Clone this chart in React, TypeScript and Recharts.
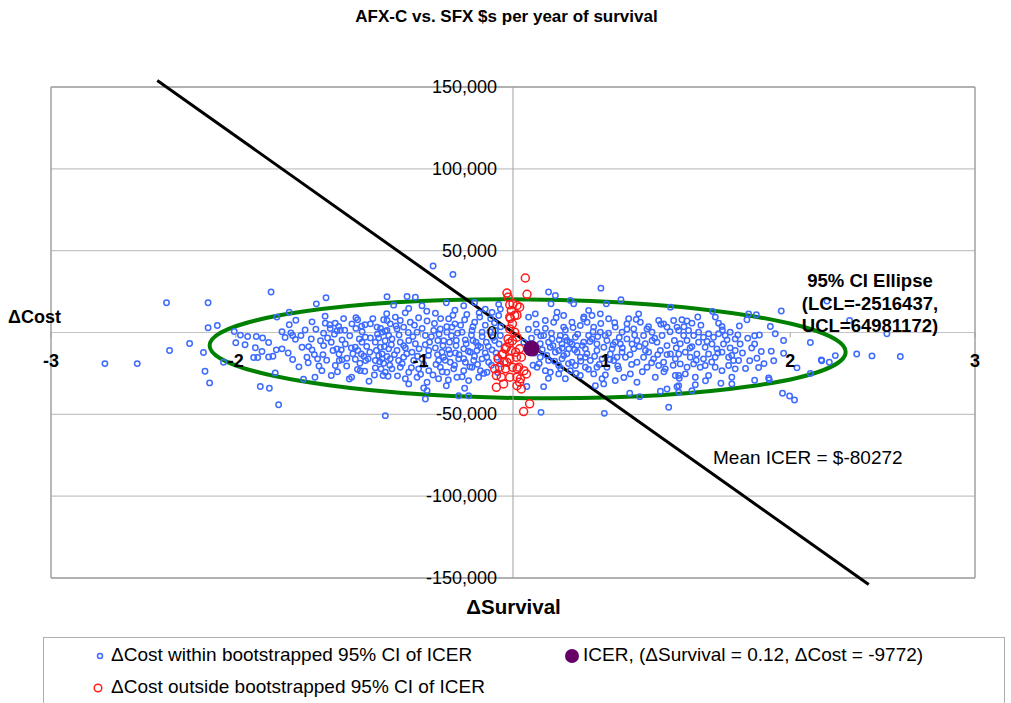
import {
  CartesianGrid,
  ReferenceArea,
  ReferenceLine,
  Scatter,
  ScatterChart,
  XAxis,
  YAxis
} from "recharts";

// ΔSurvival, ΔCost in $ thousands
const WITHIN_CI_K: [number, number][] = [
  [-2.65, -19.0], [-2.44, -19.0], [-2.25, 18.2], [-1.98, 18.2], [-2.23, -11.0], [-2.10, -6.7], [-2.01, -12.2],
  [-1.98, 2.9], [-1.92, 4.3], [-2.0, -23.7], [-1.97, -30.8], [-1.81, 0.6], [-1.77, -1.6], [-1.8, -6.3],
  [-1.74, -7.5], [-1.88, -18.2],
  [-1.571, 24.7], [-1.277, 17.5], [-1.214, 21.2], [-1.533, 9.4], [-1.453, 12.4], [-1.453, 4.7], [-1.305, 6.5],
  [-1.723, -2.4], [-1.667, -2.4], [-1.626, -3.3], [-1.673, -9.3], [-1.587, -6.1], [-1.63, -11.6], [-1.684, -15.3],
  [-1.658, -15.3], [-1.587, -14.9], [-1.559, -14.5], [-1.537, -10.6], [-1.5, -10.0], [-1.431, -16.5], [-1.442, -0.2],
  [-1.431, -1.8], [-1.413, -4.2], [-1.377, -1.8], [-1.544, -24.7], [-1.641, -33.0], [-1.582, -34.1], [-1.522, -44.1],
  [-1.327, -8.6], [-1.305, -10.6], [-1.338, -15.1], [-1.29, -13.5], [-1.269, -16.1], [-1.234, -13.5], [-1.23, -8.0],
  [-1.241, -23.3], [-1.286, -27.3], [-1.219, 5.7], [-1.19, 4.7], [-1.154, 5.7], [-1.132, 3.7], [-1.23, -0.4],
  [-1.204, -3.4], [-1.187, 2.4], [-1.143, 1.0], [-1.121, 1.4], [-1.093, 1.4], [-1.169, -11.0], [-1.143, -10.0],
  [-1.115, -10.6], [-1.13, -13.1], [-1.154, -20.2], [-1.128, -17.1], [-1.11, -16.7], [-1.078, -15.7], [-1.089, -7.0],
  [-1.05, -9.4], [-1.024, -9.0], [-1.007, -11.0], [-0.985, -13.1], [-1.024, -16.3], [-1.18, -26.3], [-1.063, -28.4],
  [-1.048, -27.3], [-0.994, -18.8], [-0.968, -14.5], [-0.957, -17.1], [-0.94, -16.1], [-0.992, -23.3], [-0.963, -23.7],
  [-0.935, -29.8], [-1.046, 5.3], [-1.02, 9.0], [-1.009, 7.8], [-0.983, 3.9], [-0.961, 4.7], [-0.926, 5.3],
  [-0.883, 3.3], [-0.84, 7.8], [-0.818, 7.3], [-0.818, 21.8], [-0.998, -3.9], [-0.981, -5.9], [-0.959, -2.9],
  [-0.926, -3.3], [-0.894, -5.9], [-0.872, -3.3], [-0.85, 0.2], [-0.829, 0.8], [-0.807, -1.8], [-0.861, -9.0],
  [-0.835, -8.6], [-0.807, -10.0], [-0.887, -11.0], [-0.872, -14.1], [-0.85, -13.1], [-0.818, -14.7], [-0.894, -17.1],
  [-0.866, -17.8], [-0.84, -18.8], [-0.894, -21.6], [-0.857, -22.2], [-0.829, -24.3], [-0.844, -26.3], [-0.811, -26.7],
  [-0.829, -50.8],
  [-0.519, 40.6], [-0.39, 35.5], [-0.688, 22.0], [-0.634, 21.6], [-0.433, 18.2], [-0.093, 17.2], [-0.775, 16.7],
  [-0.677, 14.7], [-0.591, 16.3], [-0.504, 11.8], [-0.377, 13.6], [-0.32, 16.3], [-0.249, 18.4], [-0.18, 14.3],
  [-0.136, 12.3], [-0.082, 14.3], [-0.764, 9.4], [-0.732, 7.3], [-0.797, 5.3], [-0.667, 6.3], [-0.613, 9.0],
  [-0.558, 7.0], [-0.418, 8.4], [-0.377, 5.3], [-0.314, 7.8], [-0.249, 6.3], [-0.216, 9.4], [-0.145, 8.4],
  [-0.093, 10.4], [-0.818, 1.2], [-0.753, 2.2], [-0.71, 3.3], [-0.623, 0.2], [-0.569, -1.8], [-0.515, 1.2],
  [-0.472, 2.2], [-0.429, 0.2], [-0.396, 3.3], [-0.331, 0.2], [-0.266, 1.2], [-0.201, 0.2], [-0.786, -3.9],
  [-0.732, -5.9], [-0.677, -4.9], [-0.634, -6.9], [-0.542, -5.9], [-0.488, -4.9], [-0.455, -8.0], [-0.412, -5.9],
  [-0.368, -4.9], [-0.304, -6.9], [-0.26, -4.9], [-0.227, -8.0], [-0.173, -5.9], [-0.119, -4.9], [-0.753, -11.0],
  [-0.699, -9.4], [-0.656, -12.0], [-0.547, -11.0], [-0.504, -9.4], [-0.461, -12.0], [-0.418, -10.6], [-0.374, -12.5],
  [-0.32, -10.0], [-0.277, -12.0], [-0.234, -11.0], [-0.18, -12.5], [-0.136, -10.6], [-0.797, -16.1], [-0.743, -17.1],
  [-0.71, -15.1], [-0.645, -17.1], [-0.591, -16.1], [-0.483, -17.1], [-0.451, -15.1], [-0.407, -18.2], [-0.353, -16.1],
  [-0.309, -18.2], [-0.255, -17.1], [-0.201, -16.1], [-0.158, -18.2], [-0.786, -22.2], [-0.732, -21.2], [-0.677, -24.3],
  [-0.613, -22.2], [-0.547, -23.3], [-0.472, -21.2], [-0.429, -24.3], [-0.385, -22.2], [-0.32, -23.3], [-0.266, -21.2],
  [-0.212, -23.3], [-0.169, -24.3], [-0.699, -28.3], [-0.623, -27.3], [-0.558, -30.4], [-0.483, -28.3], [-0.364, -27.3],
  [-0.288, -29.4], [-0.223, -27.3], [-0.677, -31.4], [-0.58, -33.9], [-0.558, -35.5], [-0.433, -32.5], [-0.314, -34.1],
  [-0.569, -40.6], [-0.353, -38.6], [-0.288, -38.6], [-0.114, 1.2], [-0.082, -1.8], [-0.104, -15.1], [-0.082, -19.2],
  [0.101, 9.4], [0.1, 2.0], [0.07, -6.0], [0.13, -20.0], [0.09, -33.0],
  [0.571, 27.1], [0.231, 24.7], [0.275, 22.6], [0.247, 17.5], [0.372, 19.6], [0.394, 17.5], [0.606, 17.5],
  [0.701, 20.0], [1.022, 15.5], [0.286, 12.4], [0.329, 10.4], [0.491, 13.5], [0.513, 10.4], [0.459, 8.4],
  [0.567, 11.4], [0.621, 8.4], [0.751, 8.4], [0.816, 11.4], [0.827, 6.3], [0.74, 5.3], [0.946, 7.3], [0.978, 5.3],
  [1.043, 7.3], [0.145, 11.4], [0.21, 7.3], [0.264, 6.3], [0.329, 3.3], [0.383, 6.3], [0.437, 4.3], [0.481, 6.3],
  [0.524, 3.3], [0.567, 0.2], [0.664, 3.3], [0.708, 0.2], [0.784, 2.2], [0.87, 2.2], [0.903, 0.2], [1.0, 3.3],
  [1.065, 3.3], [0.156, 0.2], [0.199, -1.8], [0.253, -3.9], [0.307, -1.8], [0.351, -4.9], [0.405, -2.9], [0.459, -5.9],
  [0.513, -3.9], [0.61, -4.9], [0.664, -5.9], [0.74, -3.9], [0.805, -4.9], [0.859, -6.9], [0.935, -5.9], [1.0, -8.0],
  [1.048, -4.9], [0.242, -9.0], [0.297, -11.0], [0.362, -10.0], [0.416, -12.0], [0.47, -10.0], [0.545, -11.0],
  [0.643, -10.0], [0.708, -12.0], [0.784, -10.0], [0.881, -12.0], [0.957, -11.0], [1.022, -13.1], [0.177, -15.1],
  [0.231, -17.1], [0.318, -16.1], [0.383, -18.2], [0.437, -15.1], [0.502, -17.1], [0.578, -16.1], [0.654, -17.1],
  [0.73, -15.1], [0.805, -18.2], [0.913, -16.1], [0.978, -18.2], [1.054, -16.1], [0.156, -21.2], [0.21, -23.3],
  [0.34, -28.3], [0.437, -26.3], [0.524, -25.3], [0.578, -28.3], [0.664, -29.4], [0.762, -25.3], [0.805, -30.4],
  [0.924, -27.3], [0.989, -22.2], [1.054, -26.3], [0.199, -33.1], [0.535, -32.5], [0.589, -31.4], [0.957, -35.9],
  [1.0, -34.5], [1.065, -33.1], [0.758, -37.1], [0.823, -39.2], [1.011, -45.7], [0.593, -49.4], [0.182, -48.8],
  [0.34, -2.9], [0.383, -7.0], [0.491, -1.8], [0.545, -7.0], [0.599, -1.8], [0.416, -8.0], [0.318, -7.0],
  [0.231, -5.9], [0.177, -6.9], [0.275, -12.0], [0.329, -14.1], [0.47, -15.1], [0.405, -20.2], [0.47, -21.2],
  [0.545, -21.2], [0.61, -21.2], [0.686, -22.2], [0.297, -20.2], [0.242, -24.3], [0.372, -23.3], [0.297, -25.3],
  [0.697, -7.0], [0.773, -7.0], [0.632, -13.1], [0.675, -15.1], [0.848, -15.1], [0.87, -21.2], [0.946, -20.2],
  [0.848, -1.8], [0.903, -4.9], [0.968, -1.8],
  [1.097, 7.8], [1.13, 7.0], [1.162, 5.7], [1.296, 12.8], [1.314, 9.4], [1.335, 5.7], [1.357, 3.7], [1.519, 7.8],
  [1.53, 11.4], [1.58, 10.8], [1.742, 13.1], [1.671, 3.7], [1.703, -0.8], [1.524, -3.5], [1.569, -2.0], [1.569, -7.0],
  [1.612, -11.6], [1.677, -11.4], [1.757, -4.9], [1.757, -12.7], [1.537, -17.3], [1.584, -15.7], [1.595, -21.4],
  [1.693, -17.3], [1.66, -27.8], [1.664, -28.8], [1.569, -29.2], [1.844, -21.6], [1.75, -37.1], [1.796, -38.8],
  [1.828, -41.2], [1.931, -6.1], [1.931, -25.0], [2.005, -17.3],
  [1.076, 1.2], [1.108, -1.8], [1.14, 1.2], [1.173, -1.8], [1.205, 0.2], [1.237, -2.9], [1.27, -0.8], [1.302, -2.9],
  [1.335, -0.8], [1.378, -1.8], [1.41, 0.2], [1.443, -3.9], [1.086, -6.9], [1.13, -4.9], [1.162, -8.6], [1.205, -5.9],
  [1.248, -9.0], [1.292, -7.0], [1.324, -10.0], [1.367, -7.0], [1.41, -9.4], [1.443, -11.0], [1.475, -7.0],
  [1.076, -13.1], [1.119, -12.0], [1.151, -15.1], [1.194, -13.1], [1.237, -16.1], [1.27, -13.1], [1.313, -15.1],
  [1.357, -12.0], [1.4, -15.1], [1.432, -17.1], [1.465, -17.1], [1.086, -19.2], [1.13, -21.2], [1.173, -19.2],
  [1.216, -21.2], [1.248, -20.2], [1.313, -21.2], [1.357, -23.3], [1.4, -20.2], [1.443, -22.2], [1.076, -26.3],
  [1.119, -25.3], [1.184, -27.3], [1.27, -26.3], [1.421, -27.3], [1.076, -32.5], [1.162, -35.5], [1.184, -31.9],
  [1.421, -31.4], [1.076, -36.5],
  [2.039, 19.2], [2.186, 7.3], [2.428, -0.8], [2.002, -16.7], [2.054, -18.2], [2.093, -14.1], [2.232, -13.1],
  [2.331, -14.3], [2.515, -14.7],
  // denser core, second pass
  [-0.98, 0.5], [-0.95, -8.5], [-0.93, -12.0], [-0.91, 8.5], [-0.9, -26.0], [-0.88, -1.0], [-0.86, 2.5],
  [-0.85, -16.0], [-0.83, -5.0], [-0.82, 11.5], [-0.8, -20.0], [-0.79, -7.5], [-0.77, -13.5], [-0.76, 4.0],
  [-0.75, -26.5], [-0.74, -1.5], [-0.72, -19.0], [-0.71, -8.0], [-0.7, 12.0], [-0.69, -13.0], [-0.68, 0.0],
  [-0.66, -21.5], [-0.65, -2.5], [-0.64, 4.5], [-0.62, -14.5], [-0.61, -10.0], [-0.6, -25.5], [-0.59, 2.5],
  [-0.58, -19.5], [-0.57, -7.5], [-0.56, 13.0], [-0.55, -14.0], [-0.53, -2.5], [-0.52, -26.0], [-0.51, 5.5],
  [-0.5, -19.5], [-0.49, -13.5], [-0.48, -1.0], [-0.47, 8.5], [-0.46, -24.0], [-0.45, -5.0], [-0.44, -17.0],
  [-0.43, 3.5], [-0.42, -29.0], [-0.41, -13.0], [-0.4, -2.0], [-0.39, 10.5], [-0.38, -20.0], [-0.37, -8.0],
  [-0.36, -0.5], [-0.35, -13.5], [-0.34, 4.5], [-0.33, -27.0], [-0.32, -16.0], [-0.31, -4.5], [-0.3, 11.0],
  [-0.29, -11.5], [-0.28, -21.0], [-0.27, -1.5], [-0.26, 3.5], [-0.25, -14.5], [-0.24, -6.0], [-0.23, -19.5],
  [-0.22, 12.0], [-0.21, -9.0], [-0.2, -2.5], [-0.19, -25.0], [-0.18, 4.5], [-0.17, -15.0], [-0.16, -8.5],
  [-0.15, 0.5], [-0.14, -20.0], [-0.13, -3.0], [-0.12, 6.0], [-0.11, -12.5], [-0.1, -24.5], [-0.09, -7.0],
  [-0.08, 3.5],
  [0.12, -3.5], [0.14, -12.5], [0.15, 5.0], [0.17, -19.0], [0.18, -2.0], [0.19, -10.5], [0.21, 2.5], [0.22, -14.0],
  [0.23, -28.0], [0.25, -0.5], [0.26, -8.0], [0.27, -17.5], [0.28, 9.0], [0.3, -4.5], [0.31, -22.0], [0.32, -9.5],
  [0.34, 1.5], [0.35, -13.0], [0.36, -19.0], [0.37, -6.0], [0.39, 3.0], [0.4, -10.5], [0.41, -25.0], [0.42, -1.0],
  [0.44, -17.5], [0.45, -8.0], [0.46, 9.5], [0.48, -13.0], [0.49, -22.5], [0.5, -5.5], [0.52, 0.5], [0.53, -14.5],
  [0.55, -2.5], [0.56, -19.5], [0.57, 5.5], [0.59, -9.0], [0.6, -26.0], [0.62, -0.5], [0.63, -16.5], [0.65, -7.5],
  [0.66, 6.0], [0.68, -20.5], [0.69, -3.0], [0.71, -9.5], [0.72, -27.5], [0.74, 2.0], [0.76, -13.5], [0.77, -19.5],
  [0.79, -1.5], [0.8, 8.0], [0.82, -8.5], [0.84, -24.0], [0.86, -11.0], [0.88, 3.5], [0.9, -18.5], [0.92, -3.5],
  [0.94, -13.5], [0.96, 5.0], [0.98, -24.0], [1.0, -13.5], [1.02, 0.5], [1.04, -20.0], [1.06, -9.5], [1.08, -28.0],
  [-1.48, -3.0], [-1.46, -12.5], [-1.41, 7.5], [-1.39, -21.0], [-1.37, -9.0], [-1.35, 1.5], [-1.33, -18.5],
  [-1.31, -4.0], [-1.28, 2.0], [-1.26, -20.5], [-1.25, -5.0], [-1.21, -17.0], [-1.18, -6.0], [-1.16, -1.0],
  [-1.14, -24.0], [-1.11, -4.5], [-1.08, -20.5], [-1.06, -2.0], [-1.04, -13.0], [-1.02, 2.5], [-1.01, -22.5],
  [-1.22, 10.0], [-1.1, 8.5], [-1.36, -28.5], [-1.5, 0.5],
  [1.11, 3.5], [1.15, -9.5], [1.19, -17.0], [1.22, 4.5], [1.26, -5.5], [1.29, -18.0], [1.33, -12.5], [1.36, 1.5],
  [1.39, -4.5], [1.42, -14.0], [1.46, -1.5], [1.49, -12.5], [1.51, -22.0], [1.55, -9.5], [1.6, -1.5], [1.63, -19.0],
  [1.25, -29.5], [1.35, -31.0], [1.47, 4.0], [1.2, 9.5]
];

const OUTSIDE_CI_K: [number, number][] = [
  [0.08, 33.3], [0.091, 23.3], [-0.039, 24.1], [-0.032, 21.6], [-0.021, 16.9], [0.0, 17.5], [0.026, 16.5],
  [0.043, 15.5], [-0.011, 13.4], [-0.021, 9.4], [0.011, 10.4], [-0.004, 5.3], [-0.021, 2.2], [0.011, 0.2],
  [-0.032, -3.9], [-0.004, -5.0], [0.026, -2.9], [-0.043, -9.0], [-0.011, -11.0], [0.017, -12.0], [0.043, -10.0],
  [-0.065, -13.1], [-0.097, -16.1], [-0.058, -17.8], [-0.021, -16.1], [0.022, -15.1], [0.054, -15.1], [-0.119, -22.2],
  [-0.087, -21.2], [-0.048, -22.2], [-0.004, -21.2], [0.028, -22.2], [0.071, -23.3], [-0.108, -26.3], [-0.076, -27.3],
  [-0.021, -27.3], [0.026, -27.3], [0.043, -30.4], [0.087, -25.3], [-0.108, -33.5], [0.054, -34.5], [0.069, -48.3],
  [0.108, -43.6], [-0.061, -31.4], [0.026, -32.5], [0.048, -28.3], [0.037, -21.2], [-0.071, -13.5], [-0.039, -18.2],
  [-0.05, -10.0], [-0.024, -6.5], [-0.017, 8.6], [0.026, 10.6]
];

const ICER = { survival: 0.12, cost: -9772 };
const ELLIPSE_SURVIVAL = [-1.97, 2.16];
const ELLIPSE_COST = [-40100, 20200];
const ELLIPSE_LCL = -2516437;
const ELLIPSE_UCL = 64981172;
const MEAN_ICER = -80272;
const MEAN_LINE = [
  { x: -2.31, y: 154000 },
  { x: 2.31, y: -154000 }
];

const X_DOMAIN = [-3, 3];
const Y_DOMAIN = [-150000, 150000];
const X_TICKS = [-3, -1.8, -0.6, 0.6, 1.8, 3];
const Y_TICKS = [-150000, -100000, -50000, 0, 50000, 100000, 150000];

const W = 1011;
const H = 703;
const X_AXIS_H = 30;
const Y_AXIS_W = 30;
const MARGIN = { top: 87, right: 36, bottom: 125 - X_AXIS_H, left: 51 - Y_AXIS_W };
const PLOT_LEFT = MARGIN.left + Y_AXIS_W;
const PLOT_W = W - PLOT_LEFT - MARGIN.right;
const PLOT_H = H - MARGIN.top - MARGIN.bottom - X_AXIS_H;
const ZERO_X = PLOT_LEFT + (PLOT_W * (0 - X_DOMAIN[0])) / (X_DOMAIN[1] - X_DOMAIN[0]);
const ZERO_Y = MARGIN.top + (PLOT_H * (Y_DOMAIN[1] - 0)) / (Y_DOMAIN[1] - Y_DOMAIN[0]);

const FONT = "'Liberation Sans', Arial, sans-serif";
const BLUE = "#3d6bff";
const RED = "#ff1a1a";
const PURPLE = "#660066";
const GREEN = "#008000";
const GRID = "#c4c4c4";
const BORDER = "#a0a0a0";

const withinData = WITHIN_CI_K.map(([x, k]) => ({ x, y: k * 1000 }));
const outsideData = OUTSIDE_CI_K.map(([x, k]) => ({ x, y: k * 1000 }));
const icerData = [{ x: ICER.survival, y: ICER.cost }];

const XTick = (props: any) => {
  const { x, payload } = props;
  return (
    <g>
      <line x1={x} x2={x} y1={ZERO_Y} y2={ZERO_Y + 5} stroke={BORDER} />
      <text
        x={x}
        y={ZERO_Y + 28}
        textAnchor="middle"
        dominantBaseline="central"
        fontFamily={FONT}
        fontSize={18}
        fontWeight="bold"
        fill="#000"
      >
        {Math.round(payload.value)}
      </text>
    </g>
  );
};

const YTick = (props: any) => {
  const { y, payload } = props;
  return (
    <text
      x={ZERO_X - 16}
      y={y}
      textAnchor="end"
      dominantBaseline="central"
      fontFamily={FONT}
      fontSize={18}
      fill="#000"
    >
      {Number(payload.value).toLocaleString("en-US")}
    </text>
  );
};

const openCircle = (r: number, color: string) => (props: any) => (
  <circle cx={props.cx} cy={props.cy} r={r} fill="none" stroke={color} strokeWidth={1.5} />
);

const EllipseShape = (props: any) => {
  const { x, y, width, height } = props;
  const cx = x + width / 2;
  const cy = y + height / 2;
  return (
    <ellipse
      cx={cx}
      cy={cy}
      rx={Math.abs(width) / 2}
      ry={Math.abs(height) / 2}
      fill="none"
      stroke={GREEN}
      strokeWidth={4}
      transform={`rotate(0.6 ${cx} ${cy})`}
    />
  );
};

const text = (style: React.CSSProperties) => ({
  position: "absolute" as const,
  fontFamily: FONT,
  color: "#000",
  whiteSpace: "nowrap" as const,
  ...style
});

export default function App() {
  return (
    <div style={{ position: "absolute", left: 0, top: 0, width: W, height: H, background: "#fff" }}>
      <ScatterChart width={W} height={H} margin={MARGIN}>
        <CartesianGrid horizontal vertical={false} stroke={GRID} strokeWidth={1.2} />
        <XAxis
          type="number"
          dataKey="x"
          domain={X_DOMAIN}
          ticks={X_TICKS}
          interval={0}
          allowDataOverflow
          axisLine={false}
          tickLine={false}
          height={X_AXIS_H}
          tick={XTick}
        />
        <YAxis
          type="number"
          dataKey="y"
          domain={Y_DOMAIN}
          ticks={Y_TICKS}
          interval={0}
          allowDataOverflow
          axisLine={false}
          tickLine={false}
          width={Y_AXIS_W}
          tick={YTick}
        />
        <ReferenceLine x={X_DOMAIN[0]} stroke={BORDER} strokeWidth={1.5} />
        <ReferenceLine x={X_DOMAIN[1]} stroke={BORDER} strokeWidth={1.5} />
        <ReferenceLine y={Y_DOMAIN[0]} stroke={BORDER} strokeWidth={1.5} />
        <ReferenceLine y={Y_DOMAIN[1]} stroke={BORDER} strokeWidth={1.5} />
        <ReferenceLine x={0} stroke={BORDER} strokeWidth={1} />
        <Scatter data={withinData} shape={openCircle(2.7, BLUE)} isAnimationActive={false} />
        <Scatter data={outsideData} shape={openCircle(4, RED)} isAnimationActive={false} />
        <ReferenceArea
          x1={ELLIPSE_SURVIVAL[0]}
          x2={ELLIPSE_SURVIVAL[1]}
          y1={ELLIPSE_COST[0]}
          y2={ELLIPSE_COST[1]}
          shape={EllipseShape}
        />
        <ReferenceLine segment={MEAN_LINE} ifOverflow="visible" stroke="#000" strokeWidth={3} />
        <Scatter
          data={icerData}
          shape={(p: any) => <circle cx={p.cx} cy={p.cy} r={8} fill={PURPLE} />}
          isAnimationActive={false}
        />
      </ScatterChart>

      <div style={text({ left: 0, width: W + 2, top: 7, textAlign: "center", fontSize: 17, fontWeight: "bold" })}>
        AFX-C vs. SFX $s per year of survival
      </div>
      <div style={text({ left: 8, top: 307, fontSize: 18, fontWeight: "bold" })}>ΔCost</div>
      <div style={text({ left: 0, width: W + 16, top: 595, textAlign: "center", fontSize: 20.5, fontWeight: "bold" })}>
        ΔSurvival
      </div>
      <div
        style={text({
          left: 770,
          width: 200,
          top: 270,
          textAlign: "center",
          fontSize: 18.5,
          fontWeight: "bold",
          lineHeight: "22.5px"
        })}
      >
        95% CI Ellipse
        <br />
        (LCL={ELLIPSE_LCL},
        <br />
        UCL={ELLIPSE_UCL})
      </div>
      <div style={text({ left: 713, top: 447, fontSize: 19 })}>Mean ICER = ${MEAN_ICER}</div>

      <div
        style={{
          position: "absolute",
          left: 43,
          top: 637,
          width: 962,
          height: 66,
          border: "1px solid #b0b0b0",
          borderBottom: "none",
          boxSizing: "border-box"
        }}
      >
        <svg width={960} height={66} style={{ position: "absolute", left: 0, top: 0 }}>
          <circle cx={56} cy={18} r={2.5} fill="none" stroke={BLUE} strokeWidth={1.5} />
          <circle cx={54} cy={50} r={3.8} fill="none" stroke={RED} strokeWidth={1.5} />
          <circle cx={528} cy={18} r={7} fill={PURPLE} />
        </svg>
        <div style={text({ left: 67, top: 6, fontSize: 19 })}>ΔCost within bootstrapped 95% CI of ICER</div>
        <div style={text({ left: 67, top: 38, fontSize: 19 })}>ΔCost outside bootstrapped 95% CI of ICER</div>
        <div style={text({ left: 539, top: 6, fontSize: 19 })}>
          ICER, (ΔSurvival = {ICER.survival}, ΔCost = {ICER.cost})
        </div>
      </div>
    </div>
  );
}
